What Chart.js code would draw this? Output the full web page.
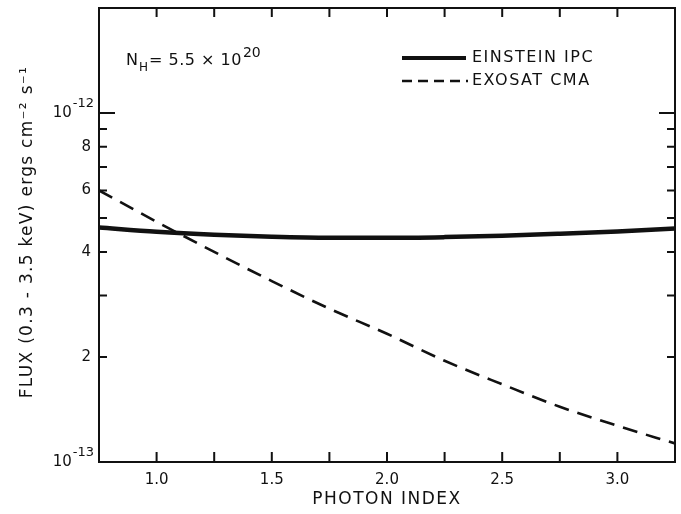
<!DOCTYPE html>
<html>
<head>
<meta charset="utf-8">
<script src="https://cdn.jsdelivr.net/npm/chart.js@4"></script>
<style>
  html, body { margin: 0; padding: 0; background: #fff; }
  #wrap { width: 681px; height: 514px; }
</style>
</head>
<body>
<div id="wrap"><canvas id="fluxChart" width="681" height="514"></canvas></div>
<script>
// photon index grid and fluxes (ergs cm^-2 s^-1)
const photonIndex = [0.75, 1.0, 1.25, 1.5, 1.75, 2.0, 2.25, 2.5, 2.75, 3.0, 3.25];
const einsteinIPC = [4.70e-13, 4.57e-13, 4.48e-13, 4.42e-13, 4.39e-13, 4.39e-13, 4.41e-13, 4.45e-13, 4.51e-13, 4.58e-13, 4.67e-13];
const exosatCMA  = [6.0e-13, 4.88e-13, 4.0e-13, 3.3e-13, 2.75e-13, 2.33e-13, 1.95e-13, 1.67e-13, 1.44e-13, 1.27e-13, 1.13e-13];

const xLabelValues = [1.0, 1.5, 2.0, 2.5, 3.0];
const xTickMarks = [1.0, 1.25, 1.5, 1.75, 2.0, 2.25, 2.5, 2.75, 3.0];
const yLabelValues = [1e-13, 2e-13, 4e-13, 6e-13, 8e-13, 1e-12];
const yLabelTexts = ["", "2", "4", "6", "8", ""];
const yPowerValues = [1e-13, 1e-12];
const yPowerExps = ["-13", "-12"];
const yMinorMarks = [2e-13, 3e-13, 4e-13, 5e-13, 6e-13, 7e-13, 8e-13, 9e-13];
const yDecadeMarks = [1e-12];

const FONT = "'DejaVu Sans', sans-serif";

function spacedText(ctx, text, x, y, spacing, align) {
  ctx.save();
  ctx.letterSpacing = spacing + "px";
  ctx.textAlign = align || "left";
  ctx.fillText(text, x, y);
  const w = ctx.measureText(text).width;
  ctx.restore();
  return w;
}

const frame = {
  id: "frame",
  afterDraw(chart) {
    const { ctx, chartArea: a, scales: { x, y } } = chart;
    ctx.save();
    ctx.strokeStyle = "#111";
    ctx.fillStyle = "#111";
    ctx.lineWidth = 2;
    ctx.strokeRect(a.left, a.top, a.right - a.left, a.bottom - a.top);

    ctx.beginPath();
    xTickMarks.forEach(v => {
      const px = x.getPixelForValue(v);
      ctx.moveTo(px, a.bottom); ctx.lineTo(px, a.bottom - 10);
      ctx.moveTo(px, a.top); ctx.lineTo(px, a.top + 9);
    });
    yMinorMarks.forEach(v => {
      const py = y.getPixelForValue(v);
      ctx.moveTo(a.left, py); ctx.lineTo(a.left + 8, py);
      ctx.moveTo(a.right, py); ctx.lineTo(a.right - 8, py);
    });
    yDecadeMarks.forEach(v => {
      const py = y.getPixelForValue(v);
      ctx.moveTo(a.left, py); ctx.lineTo(a.left + 16, py);
      ctx.moveTo(a.right, py); ctx.lineTo(a.right - 16, py);
    });
    ctx.stroke();

    // power-of-ten labels on the y axis
    ctx.textBaseline = "alphabetic";
    yPowerValues.forEach((v, i) => {
      const py = y.getPixelForValue(v);
      ctx.font = "13px " + FONT;
      ctx.textAlign = "right";
      const ew = ctx.measureText(yPowerExps[i]).width;
      ctx.fillText(yPowerExps[i], a.left - 5, py - 6);
      ctx.font = "15px " + FONT;
      ctx.fillText("10", a.left - 6 - ew, py + 4);
    });
    ctx.textAlign = "left";

    // axis titles
    ctx.textBaseline = "middle";
    ctx.font = "17px " + FONT;
    spacedText(ctx, "PHOTON INDEX", (a.left + a.right) / 2, 500, 1.5, "center");
    ctx.save();
    ctx.translate(28, (a.top + a.bottom) / 2 - 3);
    ctx.rotate(-Math.PI / 2);
    ctx.font = "17px " + FONT;
    spacedText(ctx, "FLUX (0.3 - 3.5 keV) ergs cm\u207B\u00B2 s\u207B\u00B9", 0, 0, 1.3, "center");
    ctx.restore();

    // N_H annotation
    ctx.textBaseline = "alphabetic";
    ctx.font = "16px " + FONT;
    ctx.fillText("N", 126, 65);
    ctx.font = "12px " + FONT;
    ctx.fillText("H", 139, 71);
    ctx.font = "16px " + FONT;
    const w = spacedText(ctx, "= 5.5 \u00D7 10", 149, 65, 0.5, "left");
    ctx.font = "14px " + FONT;
    ctx.fillText("20", 149 + w + 1, 57);

    // legend
    ctx.lineWidth = 4;
    ctx.beginPath();
    ctx.moveTo(402, 58); ctx.lineTo(466, 58);
    ctx.stroke();
    ctx.lineWidth = 2.6;
    ctx.setLineDash([10, 6]);
    ctx.beginPath();
    ctx.moveTo(402, 81); ctx.lineTo(468, 81);
    ctx.stroke();
    ctx.setLineDash([]);
    ctx.textBaseline = "middle";
    ctx.font = "16px " + FONT;
    spacedText(ctx, "EINSTEIN IPC", 472, 58, 1.5, "left");
    spacedText(ctx, "EXOSAT CMA", 472, 81, 1.5, "left");
    ctx.restore();
  }
};

new Chart(document.getElementById("fluxChart"), {
  type: "line",
  data: {
    labels: photonIndex,
    datasets: [
      {
        label: "EINSTEIN IPC",
        data: photonIndex.map((v, i) => ({ x: v, y: einsteinIPC[i] })),
        borderColor: "#111",
        borderWidth: 4.5,
        pointRadius: 0,
        cubicInterpolationMode: "monotone"
      },
      {
        label: "EXOSAT CMA",
        data: photonIndex.map((v, i) => ({ x: v, y: exosatCMA[i] })),
        borderColor: "#111",
        borderWidth: 2.6,
        borderDash: [15, 9],
        pointRadius: 0,
        cubicInterpolationMode: "monotone"
      }
    ]
  },
  options: {
    responsive: false,
    animation: false,
    layout: { padding: { top: 8, right: 6, left: 0, bottom: 0 } },
    plugins: { legend: { display: false }, tooltip: { enabled: false } },
    scales: {
      x: {
        type: "linear",
        min: 0.75,
        max: 3.25,
        grid: { display: false, drawTicks: false },
        border: { display: false },
        afterBuildTicks: s => { s.ticks = xLabelValues.map(v => ({ value: v })); },
        afterFit: s => { s.height = 52; s.paddingLeft = 0; s.paddingRight = 0; },
        ticks: {
          padding: 9,
          color: "#111",
          font: { family: FONT, size: 15 },
          callback: v => Number(v).toFixed(1)
        }
      },
      y: {
        type: "logarithmic",
        min: 1e-13,
        max: 2e-12,
        grid: { display: false, drawTicks: false },
        border: { display: false },
        afterBuildTicks: s => { s.ticks = yLabelValues.map(v => ({ value: v })); },
        afterFit: s => { s.width = 99; s.paddingTop = 0; s.paddingBottom = 0; },
        ticks: {
          padding: 8,
          color: "#111",
          font: { family: FONT, size: 15 },
          callback: (v) => {
            const i = yLabelValues.findIndex(t => Math.abs(t - v) < 1e-15);
            return i >= 0 ? yLabelTexts[i] : "";
          }
        }
      }
    }
  },
  plugins: [frame]
});
</script>
</body>
</html>
